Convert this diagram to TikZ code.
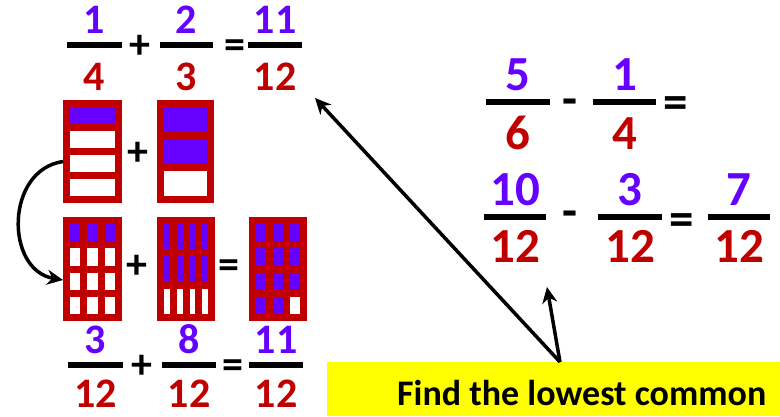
\documentclass[tikz,border=0pt]{standalone}
\usepackage{fontspec}
\setmainfont{Carlito}
\usetikzlibrary{arrows.meta,calc}
\definecolor{boxred}{RGB}{192,0,0}
\definecolor{boxpurple}{RGB}{102,0,255}
\definecolor{hl}{RGB}{255,255,0}
\tikzset{
  numtxt/.style={text=boxpurple, anchor=base, inner sep=0pt},
  dentxt/.style={text=boxred, anchor=base, inner sep=0pt},
  optxt/.style={text=black, anchor=base, inner sep=0pt},
  fracbar/.style={line width=6pt},
  arr/.style={line width=3.5pt, -{Stealth[length=16pt,width=15pt]}},
  lfont/.style={font=\bfseries\fontsize{42}{42}\selectfont},
  rfont/.style={font=\bfseries\fontsize{49}{49}\selectfont}
}
% #1 name, #2 xl, #3 xr, #4 y of bar, #5 num, #6 den, #7 font style, #8 den offset
\newcommand\myfrac[8]{%
  \draw[fracbar] (#2,#4) -- (#3,#4);
  \node[numtxt,#7] (#1n) at ({(#2+#3)/2},{#4-11.5}) {#5};
  \node[dentxt,#7] (#1d) at ({(#2+#3)/2},{#4+#8}) {#6};
}
% #1 name, #2 x0, #3 y0, #4 x1, #5 y1, #6 cols, #7 rows, #8 purple cells
\newcommand\gridbox[8]{%
  \node[fill=boxred, inner sep=0pt, outer sep=0pt, anchor=north west,
        minimum width={(#4-#2)*1pt}, minimum height={(#5-#3)*1pt}] (#1) at (#2,#3) {};
  \pgfmathsetmacro\cellw{(#4-#2-(#6+1)*7)/#6}
  \pgfmathsetmacro\cellh{(#5-#3-(#7+1)*7)/#7}
  \foreach \ri in {1,...,#7}{\foreach \ci in {1,...,#6}{%
    \pgfmathtruncatemacro\idx{(\ri-1)*#6+\ci}%
    \ifnum\idx>#8\relax\def\cellc{white}\else\def\cellc{boxpurple}\fi
    \fill[\cellc] ({#2+7+(\ci-1)*(\cellw+7)},{#3+7+(\ri-1)*(\cellh+7)}) rectangle ++(\cellw,\cellh);
  }}
}
\begin{document}
\begin{tikzpicture}[x=1pt,y=-1pt]
\useasboundingbox (0,0) rectangle (780,416);
% top equation
\myfrac{a1}{67}{122}{45}{1}{4}{lfont}{45}
\myfrac{a2}{160}{213}{45}{2}{3}{lfont}{45}
\myfrac{a3}{248}{302}{45}{11}{12}{lfont}{45}
\node[optxt,lfont] (ap) at (140,58) {+};
\node[optxt,lfont] (ae) at (235,58) {=};
% boxes
\gridbox{A}{63}{100}{122}{203}{1}{4}{1}
\gridbox{B}{157}{100}{214}{203}{1}{3}{2}
\node[optxt,lfont] (bp) at (138,165) {+};
\gridbox{C}{63}{217}{122}{321}{3}{4}{3}
\gridbox{D}{157}{217}{215}{321}{4}{3}{8}
\gridbox{E}{249}{217}{307}{321}{3}{4}{11}
\node[optxt,lfont] (cp) at (137,278) {+};
\node[optxt,lfont] (ce) at (229,278) {=};
\draw[arr] ([yshift=-10pt]A.west) .. controls (5,170) and (5,270) .. ([yshift=-11pt]C.west);
% bottom equation
\myfrac{b1}{68}{123}{365}{3}{12}{lfont}{42.5}
\myfrac{b2}{162}{216}{365}{8}{12}{lfont}{42.5}
\myfrac{b3}{249}{303}{365}{11}{12}{lfont}{42.5}
\node[optxt,lfont] (dp) at (142,378) {+};
\node[optxt,lfont] (de) at (233,378) {=};
% right equations
\myfrac{r1}{486}{550}{102}{5}{6}{rfont}{47}
\myfrac{r2}{593}{656}{102}{1}{4}{rfont}{47}
\node[optxt,rfont] (rm) at (570,115) {-};
\node[optxt,rfont] (re) at (676,118) {=};
\myfrac{s1}{484}{546}{217}{10}{12}{rfont}{45}
\myfrac{s2}{598}{662}{217}{3}{12}{rfont}{45}
\myfrac{s3}{708}{770}{217}{7}{12}{rfont}{45}
\node[optxt,rfont] (sm) at (570,227) {-};
\node[optxt,rfont] (se) at (682,235) {=};
% note
\node[fill=hl, inner sep=0pt, anchor=north west, minimum width=453pt, minimum height=54pt] (note) at (327,362) {};
\node[anchor=base west, inner sep=0pt, font=\bfseries\fontsize{36}{36}\selectfont] (notetext) at (397,405) {Find the lowest common};
\coordinate (src) at ($(note.north west)+(233,0)$);
\coordinate (t1) at (315,98);
\coordinate (t2) at (547,287);
\draw[arr] (src) -- (t1);
\draw[arr] (src) -- (t2);
\end{tikzpicture}
\end{document}
